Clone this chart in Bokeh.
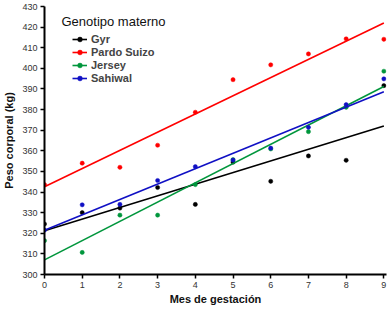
from bokeh.plotting import figure
from bokeh.models import Range1d, FixedTicker, Legend, LegendItem, Label
from bokeh.embed import file_html
from bokeh.resources import INLINE

months = [0, 1, 2, 3, 4, 5, 6, 7, 8, 9]
series_names = ["Gyr", "Pardo Suizo", "Jersey", "Sahiwal"]
gyr = [324.5, 330.0, 332.2, 342.2, 334.0, 354.5, 345.2, 357.5, 355.4, 391.6]
pardo_suizo = [343.6, 354.0, 352.0, 362.7, 378.7, 394.5, 401.7, 407.0, 414.3, 414.1]
jersey = [316.4, 310.7, 328.8, 328.8, 343.6, 355.7, 360.9, 369.3, 381.1, 398.6]
sahiwal = [321.5, 333.8, 334.0, 345.6, 352.3, 355.5, 361.3, 371.4, 382.4, 394.9]
# regression lines: value at first month and at last month
fit_start = [321.2, 342.6, 307.1, 321.5]
fit_end = [372.0, 422.0, 391.2, 388.6]
y_ticks = list(range(300, 431, 10))
x_ticks = months

colors = ["#000000", "#ff0000", "#00963c", "#1010c4"]
values = [gyr, pardo_suizo, jersey, sahiwal]

p = figure(width=392, height=309, output_backend="svg", toolbar_location=None,
           x_range=Range1d(0, 9.07), y_range=Range1d(300, 430),
           min_border_left=42, min_border_right=6, min_border_top=6, min_border_bottom=35)
p.outline_line_color = None
p.xgrid.visible = False
p.ygrid.visible = False
p.background_fill_color = "white"

items = []
for name, vals, c, s0, s1 in zip(series_names, values, colors, fit_start, fit_end):
    r_line = p.line([months[0], months[-1]], [s0, s1], line_color=c, line_width=1.6)
    r_pts = p.scatter(months, vals, size=4.2, fill_color=c, line_color=c, line_width=0.5)
    items.append(LegendItem(label=name, renderers=[r_line, r_pts]))

legend = Legend(items=items, location=(28, 190), padding=0, spacing=1,
                glyph_width=15, glyph_height=12, label_height=12, label_standoff=4,
                label_text_font="Liberation Sans", label_text_font_size="11px",
                label_text_font_style="bold", border_line_color=None,
                background_fill_alpha=0, margin=0)
p.add_layout(legend)

p.add_layout(Label(x=0.45, y=422.7, text="Genotipo materno", text_font="Liberation Sans",
                   text_font_size="13px", text_baseline="middle", text_color="#111"))

for ax in (p.xaxis[0], p.yaxis[0]):
    ax.axis_line_width = 2
    ax.major_tick_line_width = 1.5
    ax.major_tick_out = 4
    ax.major_tick_in = 0
    ax.minor_tick_line_color = None
    ax.major_label_text_font = "Liberation Sans"
    ax.major_label_text_font_size = "9px"
    ax.major_label_text_color = "#333"
    ax.axis_label_text_font = "Liberation Sans"
    ax.axis_label_text_font_size = "11px"
    ax.axis_label_text_font_style = "bold"
    ax.axis_label_text_color = "#111"

p.xaxis.ticker = FixedTicker(ticks=x_ticks)
p.yaxis.ticker = FixedTicker(ticks=y_ticks)
p.xaxis.axis_label = "Mes de gestación"
p.yaxis.axis_label = "Peso corporal (kg)"
p.xaxis.major_label_standoff = 3
p.xaxis.axis_label_standoff = 2
p.yaxis.major_label_standoff = 3
p.yaxis.axis_label_standoff = 4

open("out.html", "w").write(file_html(p, INLINE))
